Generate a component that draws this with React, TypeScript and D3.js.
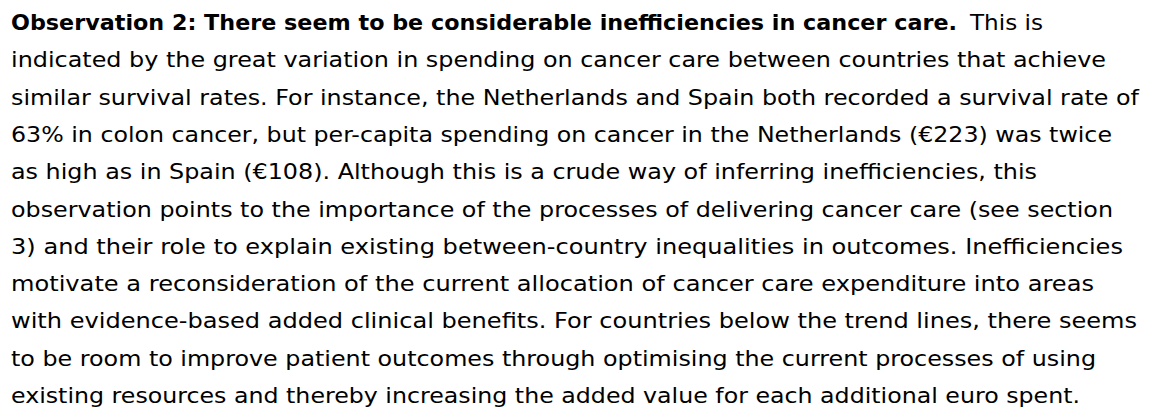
import React, { useEffect, useRef } from "react";
import * as d3 from "d3";

const headingBold = "Observation 2: There seem to be considerable inefficiencies in cancer care.";
const headingRest = "This is";
const bodyLines = [
  "indicated by the great variation in spending on cancer care between countries that achieve",
  "similar survival rates. For instance, the Netherlands and Spain both recorded a survival rate of",
  "63% in colon cancer, but per-capita spending on cancer in the Netherlands (€223) was twice",
  "as high as in Spain (€108). Although this is a crude way of inferring inefficiencies, this",
  "observation points to the importance of the processes of delivering cancer care (see section",
  "3) and their role to explain existing between-country inequalities in outcomes. Inefficiencies",
  "motivate a reconsideration of the current allocation of cancer care expenditure into areas",
  "with evidence-based added clinical benefits. For countries below the trend lines, there seems",
  "to be room to improve patient outcomes through optimising the current processes of using",
  "existing resources and thereby increasing the added value for each additional euro spent.",
];
// right edge (px) reached by each body line in the reference
const bodyLineEnds = [1106, 1139, 1112, 1037, 1113, 1123, 1094, 1137, 1096, 1080];

export default function App() {
  const ref = useRef<SVGSVGElement>(null);
  useEffect(() => {
    const svg = d3.select(ref.current);
    svg.selectAll("*").remove();
    const left = 11;
    const y = d3.scaleLinear().domain([0, 10]).range([30, 403]);
    const font = "'DejaVu Sans', Verdana, sans-serif";
    const fs = 20.5;

    const t0 = svg.append("text").attr("y", y(0)).attr("font-family", font).attr("font-size", fs).attr("fill", "#000");
    t0.append("tspan").attr("x", left).attr("font-weight", "bold").attr("textLength", 957 - left).attr("lengthAdjust", "spacingAndGlyphs").text(headingBold);
    t0.append("tspan").attr("x", 970).attr("textLength", 1043 - 970).attr("lengthAdjust", "spacingAndGlyphs").text(headingRest);

    svg.selectAll("text.body")
      .data(bodyLines)
      .join("text")
      .attr("class", "body")
      .attr("x", left)
      .attr("y", (_d, i) => y(i + 1))
      .attr("font-family", font)
      .attr("font-size", fs)
      .attr("fill", "#000")
      .attr("textLength", (_d, i) => bodyLineEnds[i] - left)
      .attr("lengthAdjust", "spacingAndGlyphs")
      .text((d) => d);
  }, []);
  return (
    <svg
      ref={ref}
      width={1153}
      height={412}
      style={{ position: "absolute", left: 0, top: 0, background: "#fff", display: "block" }}
    />
  );
}
